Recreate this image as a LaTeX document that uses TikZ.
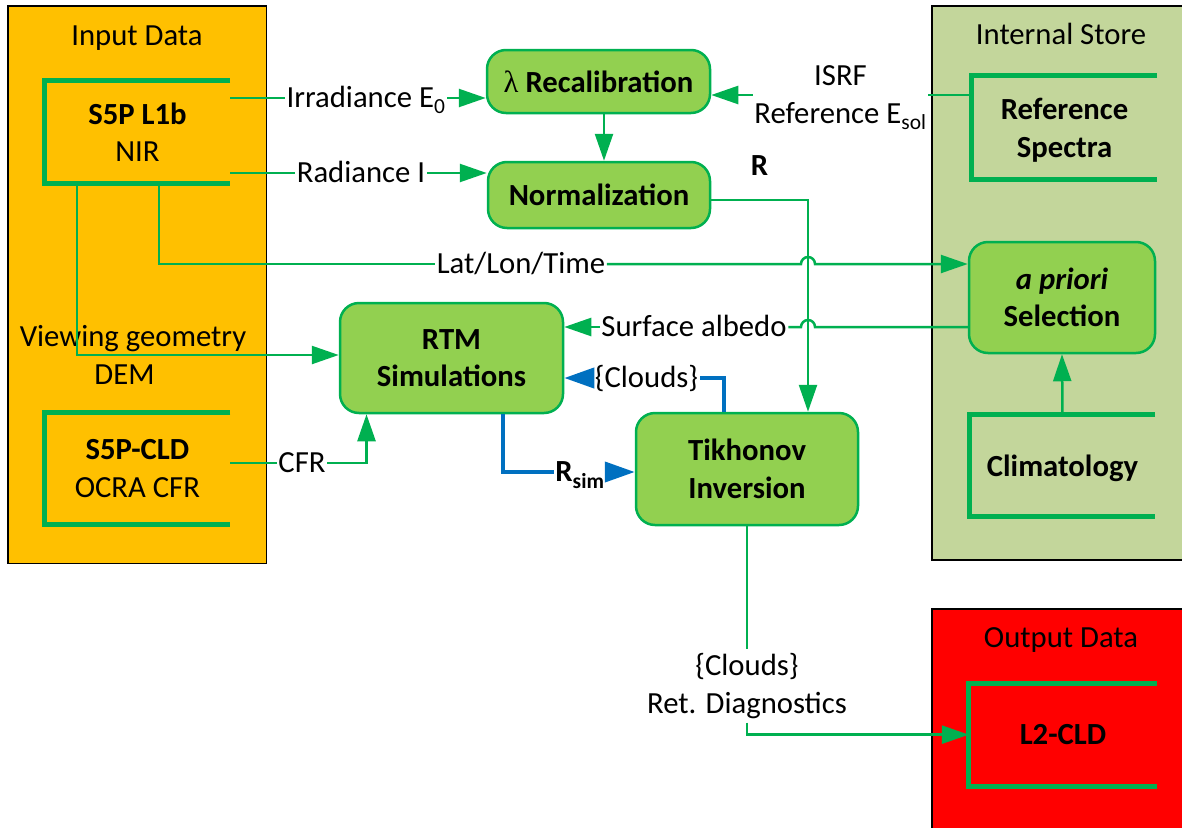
\documentclass[tikz,border=0pt]{standalone}
\usepackage{fontspec}
\setmainfont{Carlito}
\newfontfamily\lamfont{Liberation Serif}
\usetikzlibrary{arrows.meta,calc}
\definecolor{inY}{HTML}{FFC000}
\definecolor{stO}{HTML}{C3D69B}
\definecolor{outR}{HTML}{FF0000}
\definecolor{nodeG}{HTML}{92D050}
\definecolor{grn}{HTML}{00B050}
\definecolor{blu}{HTML}{0070C0}
\begin{document}
\begin{tikzpicture}[x=1pt,y=-1pt,
  every node/.style={font=\fontsize{30.7pt}{37.5pt}\selectfont, inner sep=0pt},
  panel/.style={draw=black, line width=1.2pt, rectangle},
  proc/.style={draw=grn, fill=nodeG, line width=2.5pt, rounded corners=19pt, align=center,
    font=\fontsize{30.7pt}{37.5pt}\selectfont\bfseries},
  store/.style={align=center, text depth=0pt},
  bracket/.style={draw=grn, line width=5pt},
  conn/.style={draw=grn, line width=2.5pt},
  arr/.style={conn, -{Triangle[length=27pt,width=18pt]}},
  bconn/.style={draw=blu, line width=4pt},
  barr/.style={bconn, -{Triangle[length=30pt,width=20pt]}},
  lbl/.style={inner xsep=1.5pt, inner ysep=2pt, text height=19.8pt, text depth=0pt},
  mlbl/.style={align=center, inner xsep=1.5pt, inner ysep=4pt},
]
\useasboundingbox (0,0) rectangle (1182,827);

% panels
\node[panel, fill=inY, minimum width=258.5pt, minimum height=557.5pt] (inpanel) at (137.25,284.75) {};
\node[panel, fill=stO, minimum width=251.5pt, minimum height=554pt] (stpanel) at (1057.75,283) {};
\node[panel, fill=outR, minimum width=251.5pt, minimum height=230pt] (outpanel) at (1057.75,724) {};
\node[lbl] (tin) at (137,36) {Input Data};
\node[lbl] (tst) at (1061,35) {Internal Store};
\node[lbl] (tout) at (1061,638) {Output Data};

% data stores (brackets)
\node[store, minimum width=185pt, minimum height=102.5pt] (l1b) at (137.5,132.25) {\textbf{S5P L1b}\\NIR};
\node[store, minimum width=185.3pt, minimum height=111pt] (cld) at (137.4,468.5) {\textbf{S5P-CLD}\\OCRA CFR};
\node[store, minimum width=185pt, minimum height=104.2pt] (ref) at (1064.5,127.6) {\textbf{Reference}\\\textbf{Spectra}};
\node[store, minimum width=185pt, minimum height=101.5pt] (clim) at (1062.5,465.25) {\textbf{Climatology}};
\node[store, minimum width=188pt, minimum height=102.7pt] (l2) at (1063,734.65) {\textbf{L2-CLD}};
\foreach \n in {l1b,cld,ref,clim,l2}
  \draw[bracket] (\n.north east) -- (\n.north west) -- (\n.south west) -- (\n.south east);

% processes
\node[proc, minimum width=223pt, minimum height=63pt] (recal) at (598.5,81.5) {{\lamfont\mdseries λ} Recalibration};
\node[proc, minimum width=222pt, minimum height=66pt] (norm) at (599,195) {Normalization};
\node[proc, minimum width=223pt, minimum height=110pt] (rtm) at (451.5,358) {RTM\\Simulations};
\node[proc, minimum width=222pt, minimum height=112pt] (tik) at (747,469) {Tikhonov\\Inversion};
\node[proc, minimum width=186pt, minimum height=111pt] (apri) at (1062,297.5) {\textit{a priori}\\Selection};

% labels
\node[lbl] (irr) at (366,98) {Irradiance E\textsubscript{0}};
\node[lbl] (rad) at (361,173) {Radiance I};
\node[mlbl] (isrf) at (840.5,98) {ISRF\\Reference E\textsubscript{sol}};
\coordinate (isrfy) at (840.5,95);
\node[lbl] (rlab) at (759.5,166) {\textbf{R}};
\node[lbl] (latlon) at (521,264) {Lat/Lon/Time};
\node[lbl] (salb) at (694,327) {Surface albedo};
\node[mlbl] (view) at (133,355) {Viewing geometry\\DEM\hspace*{17pt}};
\node[lbl] (cfr) at (302,463) {CFR};
\node[lbl] (rsim) at (580,472) {\textbf{R\textsubscript{sim}}};
\node[lbl] (cl1) at (646.5,378) {\{Clouds\}};
\node[mlbl] (outl) at (747,686) {\{Clouds\}\\Ret. Diagnostics};

\coordinate (vx) at ([xshift=61pt]tik.north);

% connectors
\draw[conn] (l1b.east |- irr.west) -- (irr.west);
\draw[arr] (irr.east) -- (recal.west |- irr.east);
\draw[conn] (l1b.east |- rad.west) -- (rad.west);
\draw[arr] (rad.east) -- (norm.west |- rad.east);
\draw[arr] ([xshift=5.5pt]recal.south) -- ([xshift=5pt]norm.north);
\draw[conn] (ref.west |- isrfy) -- (isrf.east |- isrfy);
\draw[arr] (isrf.west |- isrfy) -- (recal.east |- isrfy);
\draw[arr] ([yshift=-5pt]norm.east) -| (vx);
\draw[conn] ([xshift=114pt]l1b.south west) |- (latlon.west);
\draw[arr] (latlon.east) -- ($(vx |- latlon.east)+(-7,0)$) arc[start angle=180,end angle=0,radius=7pt] -- (apri.west |- latlon.east);
\draw[conn] (apri.west |- salb.east) -- ($(vx |- salb.east)+(7,0)$) arc[start angle=0,end angle=180,radius=7pt] -- (salb.east);
\draw[arr] (salb.west) -- (rtm.east |- salb.west);
\draw[arr] ([xshift=32pt]l1b.south west) |- ([yshift=3pt]rtm.west);
\draw[conn] (cld.east |- cfr.west) -- (cfr.west);
\draw[arr] (cfr.east) -| ($(rtm.south)+(-85,0)$);
\draw[bconn] ([xshift=51.5pt]rtm.south) |- (rsim.west);
\draw[barr] (rsim.east) -- (tik.west |- rsim.east);
\draw[bconn] ([xshift=-23pt]tik.north) |- (cl1.east);
\draw[barr] (cl1.west) -- (rtm.east |- cl1.west);
\draw[arr] (clim.north) -- (apri.south);
\draw[conn] (tik.south) -- (outl.north);
\draw[arr] (outl.south) |- (l2.west);
\end{tikzpicture}
\end{document}
